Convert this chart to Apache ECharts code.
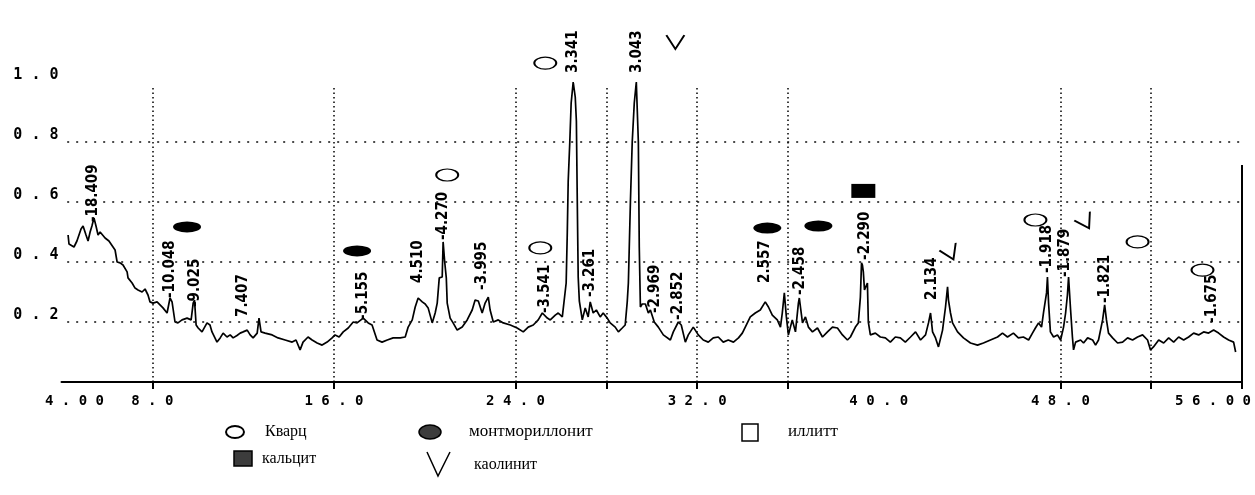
<!DOCTYPE html>
<html>
<head>
<meta charset="utf-8">
<script src="https://cdn.jsdelivr.net/npm/echarts@6/dist/echarts.min.js"></script>
<style>
  html, body { margin: 0; padding: 0; background: #fff; }
  #chart { width: 1255px; height: 495px; }
</style>
</head>
<body>
<div id="chart"></div>
<script>
// Diffraction scan: 2θ (degrees) and relative intensity
const twoTheta = [
  4.29,4.33,4.55,4.68,4.86,4.95,5.08,5.17,5.26,5.34,5.43,5.52,5.61,5.70,5.92,6.09,6.27,6.36,6.45,6.58,
  6.71,6.89,6.93,7.11,7.24,7.37,7.55,7.68,7.81,7.90,8.03,8.21,8.34,8.47,8.65,8.78,8.87,9.00,9.13,9.31,
  9.53,9.71,9.80,9.86,9.93,
  10.02,10.19,10.41,10.54,10.63,10.85,10.99,11.12,11.29,11.43,11.56,11.73,11.87,12.00,12.18,12.31,12.44,12.62,12.70,12.79,
  12.97,13.28,13.54,13.85,14.16,14.33,14.51,14.64,14.86,15.04,15.26,15.48,15.70,15.92,16.05,16.23,16.41,16.63,16.85,17.02,
  17.29,17.51,17.68,17.90,18.12,18.35,18.61,18.92,19.14,19.27,19.45,19.58,19.71,19.89,20.02,20.15,20.33,20.46,20.55,20.64,
  20.77,20.81,20.88,20.95,20.99,21.12,21.25,21.43,21.65,21.87,22.09,22.22,22.36,22.53,22.66,22.80,22.88,23.02,23.24,23.46,
  23.77,24.07,24.34,24.56,24.78,25.00,25.18,25.40,25.53,25.75,25.88,26.06,
  26.23,26.28,26.32,26.39,26.45,26.54,26.63,26.68,26.72,26.76,26.81,26.94,27.07,27.20,27.29,27.42,27.56,27.73,27.86,28.04,
  28.17,28.39,28.53,28.70,28.83,28.92,28.97,29.06,29.14,29.23,29.32,29.41,29.45,29.50,29.58,29.72,29.85,29.94,
  30.11,30.29,30.51,30.82,30.95,31.17,31.30,31.48,31.61,31.83,32.05,32.27,32.49,32.71,32.93,33.15,33.37,33.60,33.82,33.99,
  34.12,34.34,34.56,34.78,35.00,35.14,35.31,35.53,35.67,35.75,35.84,35.93,36.02,36.19,36.33,36.46,36.50,36.64,36.77,36.90,
  37.08,37.30,37.52,37.74,37.96,38.18,38.40,38.62,38.75,38.97,39.10,
  39.19,39.24,39.28,39.32,39.37,39.50,39.54,39.63,39.85,40.07,40.29,40.51,40.73,40.95,41.17,41.40,41.62,41.84,42.06,42.19,
  42.28,42.37,42.50,42.63,42.81,42.85,42.94,43.03,43.07,43.16,43.25,43.47,43.73,44.04,44.35,44.61,44.92,45.23,45.45,45.67,
  45.93,46.15,46.37,46.60,46.77,46.90,47.04,
  47.17,47.26,47.39,47.43,47.48,47.56,47.70,47.87,48.01,48.14,48.23,48.31,48.36,48.45,48.53,48.58,48.67,48.89,49.02,49.20,
  49.42,49.55,49.68,49.86,49.95,50.03,50.12,50.30,50.52,50.74,50.96,51.18,51.40,51.62,51.84,51.97,52.10,52.33,52.55,52.77,
  52.99,53.21,53.43,53.65,53.87,54.09,54.31,54.53,54.75,54.97,55.19,55.41,55.63,55.72
];
const intensity = [
  0.49,0.46,0.45,0.47,0.51,0.52,0.49,0.47,0.50,0.52,0.547,0.52,0.49,0.50,0.48,0.47,0.45,0.44,0.40,0.397,
  0.39,0.367,0.347,0.33,0.313,0.307,0.30,0.31,0.29,0.267,0.263,0.267,0.257,0.247,0.23,0.28,0.267,0.20,0.197,0.207,
  0.213,0.207,0.263,0.273,0.19,
  0.18,0.167,0.197,0.19,0.167,0.133,0.147,0.163,0.15,0.157,0.147,0.155,0.163,0.167,0.173,0.157,0.147,0.163,0.213,0.167,
  0.163,0.157,0.147,0.14,0.133,0.14,0.107,0.133,0.15,0.14,0.13,0.123,0.133,0.147,0.157,0.15,0.167,0.18,0.20,0.197,
  0.213,0.197,0.19,0.14,0.133,0.14,0.147,0.147,0.15,0.183,0.207,0.25,0.28,0.267,0.26,0.247,0.197,0.23,0.263,0.347,
  0.35,0.467,0.40,0.347,0.263,0.213,0.197,0.173,0.183,0.207,0.24,0.273,0.27,0.23,0.263,0.283,0.24,0.20,0.207,0.197,
  0.19,0.18,0.167,0.183,0.19,0.207,0.23,0.213,0.207,0.223,0.23,0.217,
  0.33,0.50,0.67,0.80,0.93,1.0,0.95,0.87,0.60,0.35,0.27,0.207,0.247,0.217,0.267,0.23,0.24,0.217,0.23,0.213,
  0.197,0.183,0.167,0.18,0.19,0.267,0.33,0.60,0.80,0.93,1.0,0.80,0.45,0.25,0.26,0.26,0.23,0.24,
  0.20,0.183,0.157,0.14,0.167,0.20,0.19,0.133,0.157,0.183,0.157,0.14,0.133,0.147,0.15,0.133,0.14,0.133,0.147,0.163,
  0.183,0.217,0.23,0.24,0.267,0.25,0.223,0.207,0.183,0.23,0.297,0.217,0.157,0.207,0.167,0.263,0.28,0.197,0.217,0.183,
  0.167,0.18,0.15,0.167,0.183,0.18,0.157,0.14,0.15,0.183,0.197,
  0.283,0.397,0.39,0.367,0.307,0.33,0.20,0.157,0.163,0.15,0.147,0.133,0.15,0.147,0.133,0.15,0.167,0.14,0.157,0.197,
  0.23,0.167,0.147,0.117,0.173,0.197,0.25,0.317,0.273,0.23,0.197,0.167,0.147,0.13,0.123,0.13,0.14,0.15,0.163,0.15,
  0.163,0.147,0.15,0.14,0.163,0.18,0.197,
  0.183,0.233,0.297,0.35,0.263,0.167,0.15,0.157,0.14,0.183,0.23,0.29,0.35,0.24,0.15,0.107,0.133,0.14,0.13,0.147,
  0.14,0.123,0.14,0.207,0.257,0.207,0.163,0.147,0.13,0.133,0.147,0.14,0.15,0.157,0.14,0.107,0.117,0.14,0.13,0.147,
  0.133,0.15,0.14,0.15,0.163,0.157,0.167,0.163,0.173,0.163,0.15,0.14,0.133,0.10
];

// d-spacing annotations (Å): anchor at the foot of each label
const peakX = [5.39, 8.78, 9.88, 12.00, 17.29, 19.71, 20.81, 22.53, 25.31, 26.54, 27.29,
               29.36, 30.16, 31.17, 35.00, 36.55, 39.41, 42.37, 47.43, 48.23, 49.99, 54.70];
const peakY = [0.533, 0.28, 0.25, 0.217, 0.207, 0.33, 0.473, 0.307, 0.23, 1.03, 0.283,
               1.03, 0.23, 0.207, 0.33, 0.29, 0.407, 0.273, 0.363, 0.35, 0.263, 0.197];
const peakText = ['-18.409', '-10.048', '-9.025', '7.407', '-5.155', '4.510', '-4.270', '-3.995',
                  '-3.541', '3.341', '-3.261', '3.043', '-2.969', '-2.852', '2.557', '-2.458',
                  '-2.290', '2.134', '-1.918', '-1.879', '-1.821', '-1.675'];

// Phase markers placed above the attributed reflections
const quartzMarks = [[20.99, 0.69], [25.09, 0.447], [25.31, 1.063], [46.90, 0.54], [51.40, 0.467], [54.26, 0.373]];
const montmorilloniteMarks = [[9.53, 0.517], [17.02, 0.437], [35.09, 0.513], [37.34, 0.52]];
const calciteMarks = [[39.32, 0.637]];
const kaoliniteMarks = [[31.04, 1.133], [43.16, 0.43], [49.11, 0.533]];
const kaoliniteTilt = [0, 25, 30];

// Axis layout values
const gridLinesX = [8, 16, 24, 28, 32, 36, 48, 52];
const gridLinesY = [0.2, 0.4, 0.6, 0.8];
const xTickValues = [8, 16, 24, 28, 32, 36, 48, 52, 56];
const xLabelValues = [4, 8, 16, 24, 32, 40, 48, 56];

const spaced = s => s.split('').join(' ');
const monoBold = { fontFamily: '"DejaVu Sans Mono", monospace', fontWeight: 'bold', fontSize: 14, color: '#000' };
const serif = '"Liberation Serif", "DejaVu Serif", serif';

const chart = echarts.init(document.getElementById('chart'), null, { renderer: 'canvas' });

const vDot = { color: '#000', width: 1.5, type: [1.5, 3] };
const hDot = { color: '#111', width: 1.5, type: [2, 7] };

const markLineData = [];
gridLinesX.forEach(x => markLineData.push([{ coord: [x, 0], lineStyle: vDot }, { coord: [x, 0.98] }]));
gridLinesY.forEach(y => markLineData.push([{ coord: [4.25, y], lineStyle: hDot }, { coord: [56, y] }]));
markLineData.push([{ coord: [56, 0], lineStyle: { color: '#000', width: 2, type: 'solid' } }, { coord: [56, 0.723] }]);

const option = {
  animation: false,
  backgroundColor: '#fff',
  grid: { left: 61.5, right: 13, top: 22, bottom: 113, containLabel: false },
  xAxis: {
    type: 'value', min: 4, max: 56, offset: 3,
    axisLine: { show: true, lineStyle: { color: '#000', width: 2 } },
    axisTick: { show: true, customValues: xTickValues, length: 7, lineStyle: { color: '#000', width: 2 } },
    axisLabel: Object.assign({}, monoBold, {
      customValues: xLabelValues, margin: 9,
      formatter: v => {
        const s = spaced(v === 4 || v === 56 ? v.toFixed(2) : v.toFixed(1));
        if (v === 4) return '{first|' + s + '}';
        if (v === 56) return '{last|' + s + '}';
        return s;
      },
      rich: {
        first: Object.assign({}, monoBold, { padding: [0, 0, 0, 26] }),
        last: Object.assign({}, monoBold, { padding: [0, 58, 0, 0] })
      }
    }),
    splitLine: { show: false }
  },
  yAxis: {
    type: 'value', min: 0, max: 1.2, interval: 0.2,
    axisLine: { show: false }, axisTick: { show: false }, splitLine: { show: false },
    axisLabel: Object.assign({}, monoBold, {
      fontSize: 15, margin: 3, verticalAlign: 'bottom', lineHeight: 14,
      formatter: v => (v > 0.01 && v < 1.01) ? spaced(v.toFixed(1)) : ''
    })
  },
  series: [
    {
      type: 'line',
      data: twoTheta.map((x, i) => [x, intensity[i]]),
      showSymbol: false, symbol: 'none',
      lineStyle: { color: '#000', width: 1.7 },
      z: 3,
      markLine: { silent: true, symbol: ['none', 'none'], label: { show: false }, data: markLineData }
    },
    {
      type: 'scatter',
      data: peakX.map((x, i) => ({ value: [x, peakY[i]], name: peakText[i] })),
      symbolSize: 1,
      itemStyle: { color: 'rgba(0,0,0,0)', opacity: 1 },
      label: {
        show: true, position: 'inside', rotate: 90, align: 'left', verticalAlign: 'middle',
        formatter: '{b}', color: '#000', opacity: 1, fontSize: 15, fontWeight: 'bold',
        fontFamily: '"DejaVu Sans Condensed", "Liberation Sans Narrow", "DejaVu Sans", sans-serif'
      },
      z: 4
    },
    {
      type: 'scatter', data: quartzMarks, symbol: 'circle', symbolSize: [22, 12],
      itemStyle: { color: '#fff', borderColor: '#000', borderWidth: 1.5, opacity: 1 }, z: 5
    },
    {
      type: 'scatter', data: montmorilloniteMarks, symbol: 'circle', symbolSize: [28, 11],
      itemStyle: { color: '#000', opacity: 1 }, z: 5
    },
    {
      type: 'scatter', data: calciteMarks, symbol: 'rect', symbolSize: [24, 14],
      itemStyle: { color: '#000', opacity: 1 }, z: 5
    },
    {
      type: 'scatter',
      data: kaoliniteMarks.map((p, i) => ({ value: p, symbolRotate: kaoliniteTilt[i] })),
      symbol: 'path://M0,0L10,14L20,0', symbolSize: [18, 14],
      itemStyle: { color: 'rgba(0,0,0,0)', borderColor: '#000', borderWidth: 1.8, opacity: 1 }, z: 5
    }
  ],
  graphic: [
    { type: 'ellipse', shape: { cx: 235, cy: 432, rx: 9, ry: 6 }, style: { fill: '#fff', stroke: '#000', lineWidth: 2 } },
    { type: 'text', x: 265, y: 432, style: { text: 'Кварц', fontSize: 16, fontFamily: serif, fill: '#000', verticalAlign: 'middle' } },
    { type: 'ellipse', shape: { cx: 430, cy: 432, rx: 11, ry: 7 }, style: { fill: '#3c3c3c', stroke: '#000', lineWidth: 1.5 } },
    { type: 'text', x: 469, y: 432, style: { text: 'монтмориллонит', fontSize: 17, fontFamily: serif, fill: '#000', verticalAlign: 'middle' } },
    { type: 'rect', shape: { x: 742, y: 424, width: 16, height: 17 }, style: { fill: '#fff', stroke: '#000', lineWidth: 1.5 } },
    { type: 'text', x: 788, y: 432, style: { text: 'иллитт', fontSize: 17, fontFamily: serif, fill: '#000', verticalAlign: 'middle' } },
    { type: 'rect', shape: { x: 234, y: 451, width: 18, height: 15 }, style: { fill: '#3c3c3c', stroke: '#000', lineWidth: 1.5 } },
    { type: 'text', x: 262, y: 459, style: { text: 'кальцит', fontSize: 16, fontFamily: serif, fill: '#000', verticalAlign: 'middle' } },
    { type: 'polyline', shape: { points: [[427, 452], [438, 476], [450, 452]] }, style: { fill: 'none', stroke: '#000', lineWidth: 1.5 } },
    { type: 'text', x: 474, y: 465, style: { text: 'каолинит', fontSize: 16, fontFamily: serif, fill: '#000', verticalAlign: 'middle' } }
  ]
};

chart.setOption(option);
</script>
</body>
</html>
